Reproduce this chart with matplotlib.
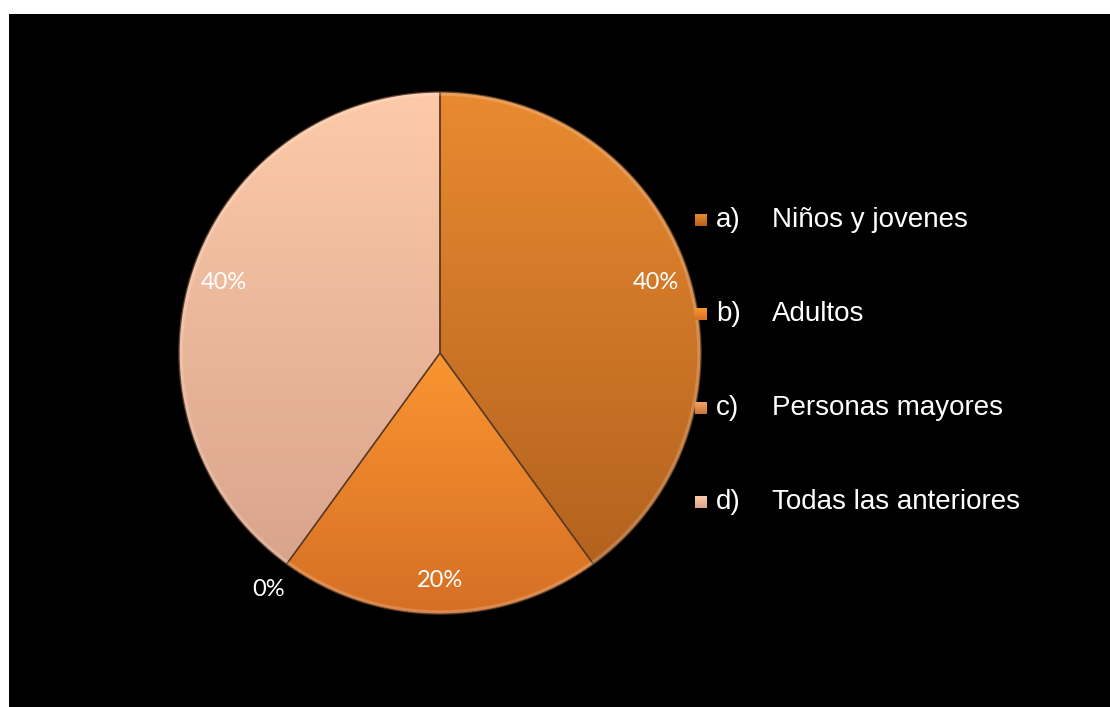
import numpy as np
import matplotlib
matplotlib.use('Agg')
import matplotlib.pyplot as plt
from matplotlib.patches import Rectangle
from matplotlib.colors import to_rgb

# Survey answers and their share of responses
letters = ['a)', 'b)', 'c)', 'd)']
categories = ['Niños y jovenes', 'Adultos', 'Personas mayores', 'Todas las anteriores']
shares = [40, 20, 0, 40]

# top / bottom colours of each slice gradient
top_colors = ['#E98A30', '#FA9531', '#F9A060', '#FDCAA9']
bottom_colors = ['#B3621F', '#D56F25', '#C7763C', '#D9A48C']

W, H = 1110, 707
fig = plt.figure(figsize=(W / 100, H / 100), dpi=100, facecolor='white')

# black slide background with the thin white margin left/top
fig.patches.append(Rectangle((9 / W, 0), (W - 9) / W, (H - 14) / H,
                             transform=fig.transFigure, facecolor='black',
                             edgecolor='none', zorder=-1))

ax = fig.add_axes([0, 0, 1, 1])
ax.patch.set_alpha(0)

cx, cy, r = 440, H - 353, 261
wedges, texts, autotexts = ax.pie(
    shares, startangle=90, counterclock=False, center=(cx, cy), radius=r,
    autopct='%1.0f%%', pctdistance=0.87, frame=True,
    wedgeprops=dict(edgecolor='#5a3a22', linewidth=1.0),
    textprops=dict(color='white', fontsize=17, family='Lato'))

ax.set_xlim(0, W)
ax.set_ylim(0, H)
ax.axis('off')


def gradient(c0, c1, n=256):
    a, b = np.array(to_rgb(c0)), np.array(to_rgb(c1))
    t = np.linspace(0, 1, n)[:, None]
    return (a + (b - a) * t)[:, None, :]


for w, v, c0, c1 in zip(wedges, shares, top_colors, bottom_colors):
    if v == 0:
        continue
    bb = w.get_path().get_extents()
    im = ax.imshow(gradient(c0, c1), extent=[bb.x0, bb.x1, bb.y0, bb.y1],
                   origin='upper', aspect='auto', zorder=1)
    im.set_clip_path(w)
    w.set_facecolor('none')
    w.set_zorder(2)

# soft light rim along the outer edge
theta = np.linspace(0, 2 * np.pi, 400)
ax.plot(cx + (r - 2) * np.cos(theta), cy + (r - 2) * np.sin(theta),
        color='white', alpha=0.18, lw=2.5, zorder=2)

for t in autotexts:
    t.set_zorder(4)

# the empty slice gets its label pushed outside the pie
for w, v, t in zip(wedges, shares, autotexts):
    if v == 0:
        ang = np.deg2rad(w.theta1)
        t.set_position((cx + 1.12 * r * np.cos(ang), cy + 1.12 * r * np.sin(ang)))

# legend on the right
rows_y = [220, 314, 408, 502]
for i, y in enumerate(rows_y):
    yy = H - y
    ax.imshow(gradient(top_colors[i], bottom_colors[i], 32),
              extent=[695, 707, yy - 6, yy + 6], origin='upper',
              aspect='auto', zorder=3)
    ax.text(716, yy, letters[i], color='white', fontsize=20,
            family='Liberation Sans', va='center', ha='left')
    ax.text(772, yy, categories[i], color='white', fontsize=20,
            family='Liberation Sans', va='center', ha='left')

ax.set_xlim(0, W)
ax.set_ylim(0, H)

fig.savefig('out.png', dpi=100, facecolor='white')
